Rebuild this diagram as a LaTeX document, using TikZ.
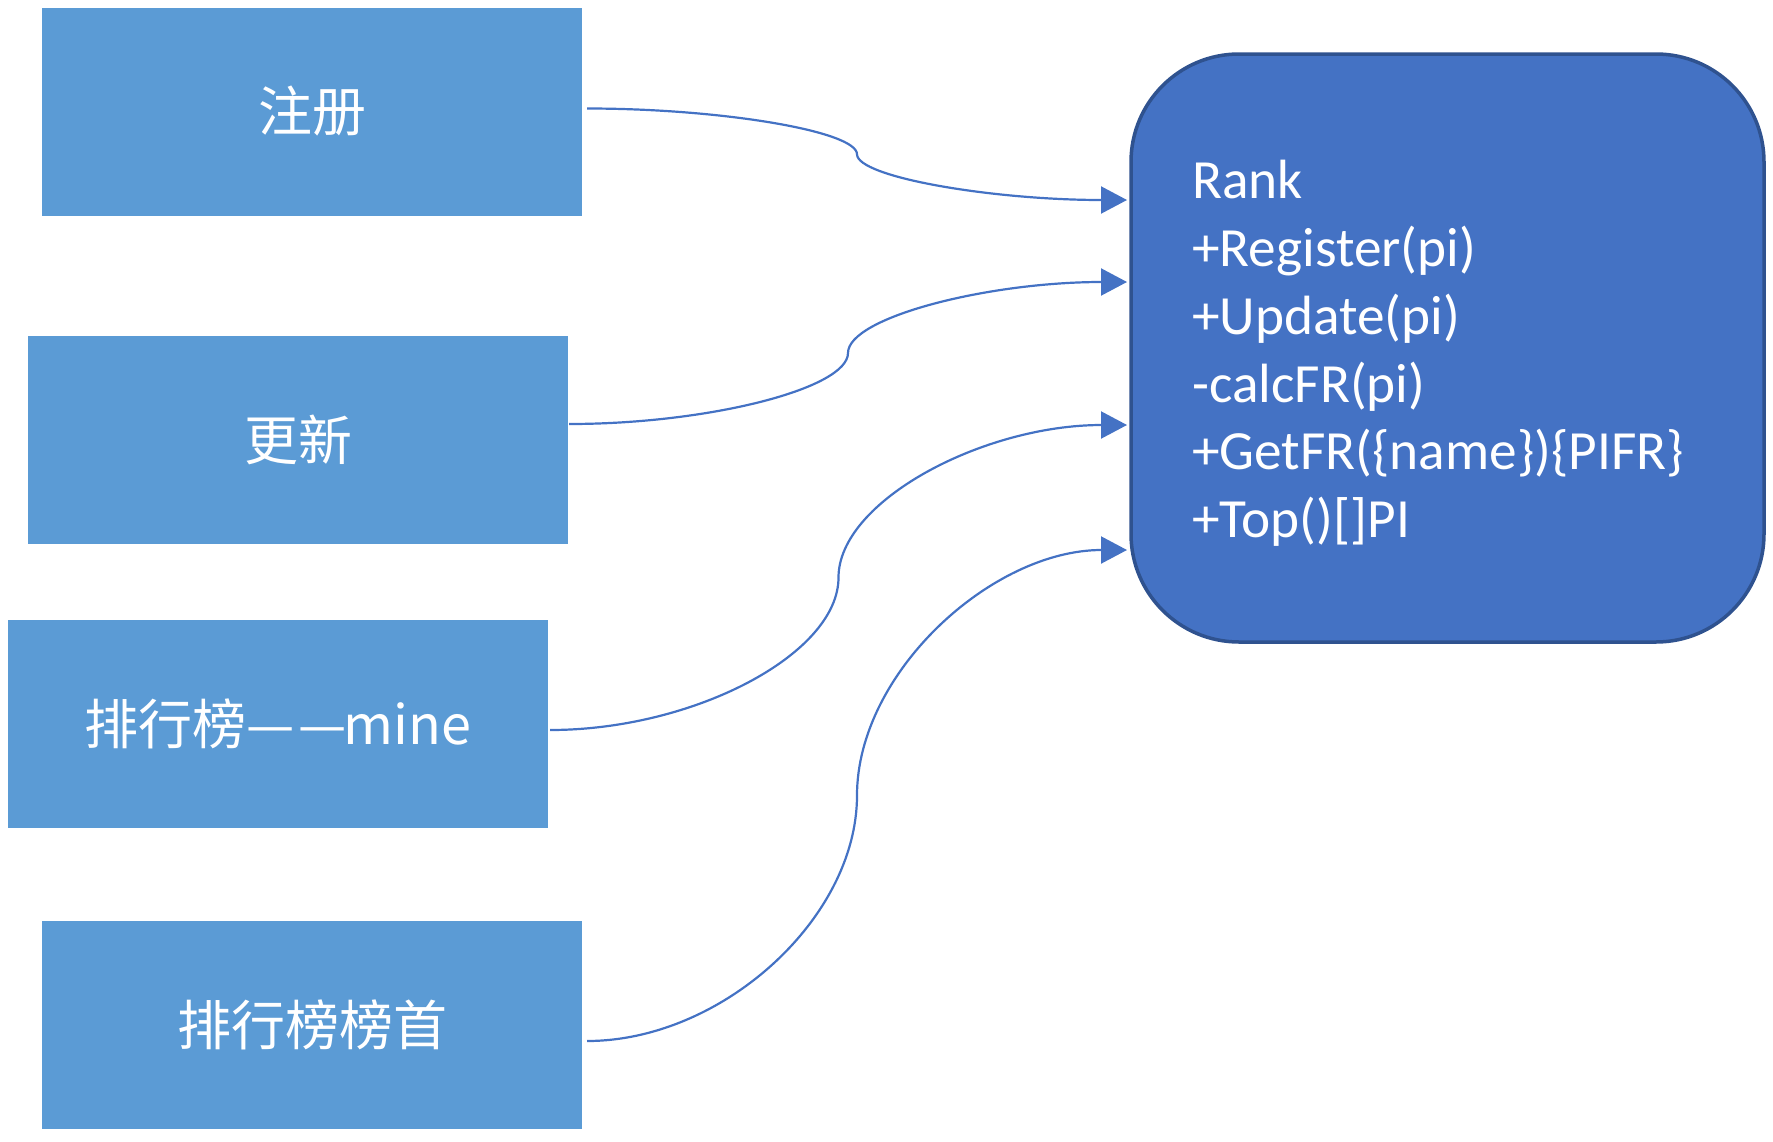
\documentclass[tikz,border=0pt]{standalone}
\usepackage{fontspec}
\setmainfont{Carlito}
\newfontfamily\cjk{Noto Sans CJK SC}
\usetikzlibrary{arrows.meta,calc}
\definecolor{lboxc}{HTML}{5B9BD5}
\definecolor{rankc}{HTML}{4472C4}
\definecolor{rankb}{HTML}{2F528F}
\definecolor{connc}{HTML}{4472C4}
\tikzset{
  lbox/.style={fill=lboxc, draw=none, minimum width=540pt, minimum height=208pt, inner sep=0pt, outer sep=0pt, text=white, font=\cjk\fontsize{54}{60}\selectfont},
  rankbox/.style={fill=rankc, draw=rankb, line width=3.5pt, rounded corners=108pt, minimum width=633pt, minimum height=588pt, inner sep=0pt, outer sep=0pt},
  conn/.style={draw=connc, line width=2.2pt, -{Triangle[length=26pt,width=27pt]}},
}
\begin{document}
\begin{tikzpicture}[x=1pt,y=-1pt]
\useasboundingbox (0,0) rectangle (1773,1141);
\node[lbox] (reg) at (312,111.5) {注册};
\node[lbox] (upd) at (298,439.5) {更新};
\node[lbox] (mine) at (278,724) {排行榜—\hspace{4pt}—\hspace{-3pt}mine};
\node[lbox] (top) at (312,1024.5) {排行榜榜首};
\node[rankbox] (rank) at (1447.5,348) {};
\node[anchor=north west, inner sep=0pt, align=left, text=white, font=\fontsize{55.3}{67.8}\selectfont] (ranktext) at (1192,160)
  {Rank\\+Register(pi)\\+Update(pi)\\-calcFR(pi)\\+GetFR(\{name\})\{PIFR\}\\+Top()[]PI};
\coordinate (s1) at ([xshift=5pt,yshift=3pt]reg.east);
\coordinate (s2) at ([xshift=1pt,yshift=15.5pt]upd.east);
\coordinate (s3) at ([xshift=2pt,yshift=-6pt]mine.east);
\coordinate (s4) at ([xshift=5pt,yshift=-16.5pt]top.east);
\coordinate (e1) at ([xshift=-4pt,yshift=-146pt]rank.north west);
\coordinate (e2) at ([xshift=-4pt,yshift=-228pt]rank.north west);
\coordinate (e3) at ([xshift=-4pt,yshift=-371pt]rank.north west);
\coordinate (e4) at ([xshift=-4pt,yshift=-496pt]rank.north west);
\foreach \i in {1,2,3,4}{
  \coordinate (m\i) at ($(s\i)!0.5!(e\i)$);
  \coordinate (q\i) at ($(s\i)!0.25!(e\i)$);
  \coordinate (r\i) at ($(s\i)!0.75!(e\i)$);
  \draw[conn] (s\i) .. controls (q\i |- s\i) and (m\i |- q\i) .. (m\i) .. controls (m\i |- r\i) and (r\i |- e\i) .. (e\i);
}
\end{tikzpicture}
\end{document}
